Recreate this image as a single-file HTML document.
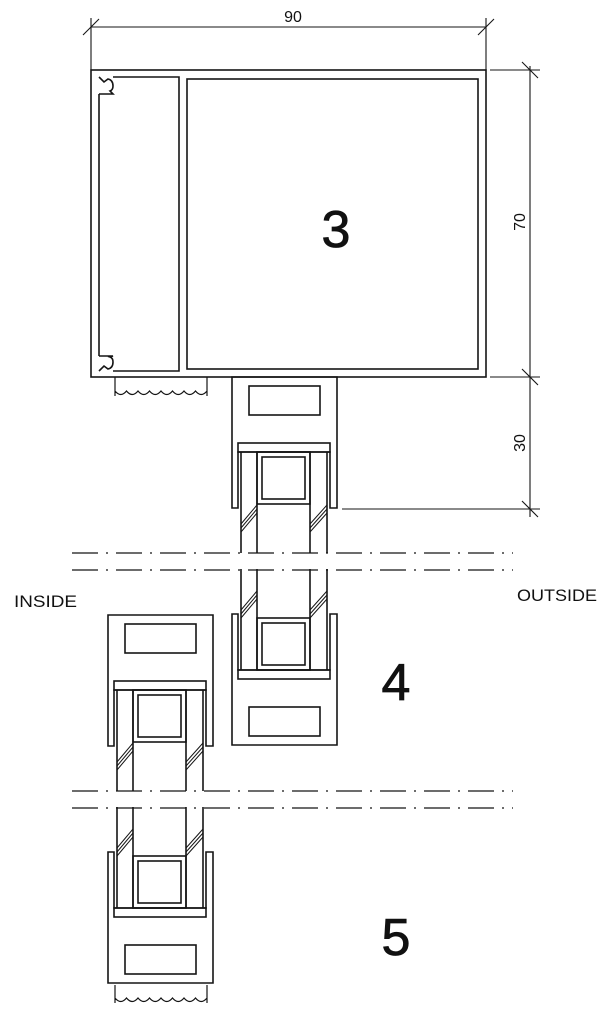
<!DOCTYPE html>
<html><head><meta charset="utf-8"><style>
html,body{margin:0;padding:0;background:#fff;}
svg{display:block;}
text{font-family:"Liberation Sans",sans-serif;fill:#111;}
</style></head><body>
<svg width="606" height="1017" viewBox="0 0 606 1017" xmlns="http://www.w3.org/2000/svg">
<defs>
<g id="half" fill="none" stroke="#151515" stroke-width="1.6">
  <path d="M232,508 V377 H337 V508 H330 V452 H238 V508 Z"/>
  <rect x="238" y="443" width="92" height="9"/>
  <rect x="249" y="386" width="71" height="29"/>
  <line x1="241" y1="452" x2="241" y2="553"/>
  <line x1="257" y1="452" x2="257" y2="553"/>
  <line x1="310" y1="452" x2="310" y2="553"/>
  <line x1="327" y1="452" x2="327" y2="553"/>
  <rect x="257" y="452" width="53" height="52"/>
  <rect x="262" y="457" width="43" height="42"/>
</g>
<g id="hatch" fill="none" stroke="#151515" stroke-width="1">
  <line x1="241" y1="0" x2="257" y2="-19"/>
  <line x1="241" y1="4" x2="257" y2="-15"/>
  <line x1="241" y1="8" x2="257" y2="-11"/>
  <line x1="310" y1="0" x2="327" y2="-19"/>
  <line x1="310" y1="4" x2="327" y2="-15"/>
  <line x1="310" y1="8" x2="327" y2="-11"/>
</g>
<g id="sash">
  <use href="#half"/>
  <use href="#half" transform="translate(0,1122) scale(1,-1)"/>
  <use href="#hatch" transform="translate(0,524)"/>
  <use href="#hatch" transform="translate(0,610)"/>
</g>
</defs>

<g fill="none" stroke="#151515" stroke-width="1.6">
  <!-- frame 3 -->
  <rect x="91" y="70" width="395" height="307"/>
  <path d="M99,94 V356"/>
  <path d="M99,77 L104,82 L108,79 Q113,80 113,86 Q113,90 110,91 L113,94 L99,94"/>
  <path d="M99,371 L104,366 L108,369 Q113,368 113,362 Q113,358 110,357 L113,356 L99,356"/>
  <path d="M113,77 H179 V371 H113"/>
  <rect x="187" y="79" width="291" height="290"/>
  <!-- wavy strips -->
  <path d="M115,377 V396 M207,377 V396 M115,391 q5.75,7 11.5,0 q5.75,7 11.5,0 q5.75,7 11.5,0 q5.75,7 11.5,0 q5.75,7 11.5,0 q5.75,7 11.5,0 q5.75,7 11.5,0 q5.75,7 11.5,0" stroke-width="1.2"/>
  <path d="M115,985 V1003 M207,985 V1003 M115,998 q5.75,7 11.5,0 q5.75,7 11.5,0 q5.75,7 11.5,0 q5.75,7 11.5,0 q5.75,7 11.5,0 q5.75,7 11.5,0 q5.75,7 11.5,0 q5.75,7 11.5,0" stroke-width="1.2"/>
  <!-- dimensions -->
  <g stroke-width="1.1">
    <line x1="91" y1="27" x2="486" y2="27"/>
    <line x1="91" y1="18" x2="91" y2="70"/>
    <line x1="486" y1="18" x2="486" y2="70"/>
    <line x1="83" y1="35" x2="99" y2="19"/>
    <line x1="478" y1="35" x2="494" y2="19"/>
    <line x1="530" y1="66" x2="530" y2="517"/>
    <line x1="490" y1="70" x2="540" y2="70"/>
    <line x1="490" y1="377" x2="540" y2="377"/>
    <line x1="342" y1="509" x2="540" y2="509"/>
    <line x1="522" y1="62" x2="538" y2="78"/>
    <line x1="522" y1="369" x2="538" y2="385"/>
    <line x1="522" y1="501" x2="538" y2="517"/>
  </g>
  <!-- centre lines -->
  <g stroke-width="1.3" stroke-dasharray="26,8,2,8">
    <line x1="72" y1="553" x2="513" y2="553"/>
    <line x1="72" y1="570" x2="513" y2="570"/>
    <line x1="72" y1="791" x2="513" y2="791"/>
    <line x1="72" y1="808" x2="513" y2="808"/>
  </g>
</g>
<use href="#sash"/>
<use href="#sash" transform="translate(-124,238)"/>

<text x="293" y="22" font-size="16" text-anchor="middle">90</text>
<text x="0" y="0" font-size="16" text-anchor="middle" transform="translate(525,222) rotate(-90)">70</text>
<text x="0" y="0" font-size="16" text-anchor="middle" transform="translate(525,443) rotate(-90)">30</text>
<text x="336" y="247" font-size="52" text-anchor="middle" stroke="#111" stroke-width="0.8">3</text>
<text x="396" y="700" font-size="52" text-anchor="middle" stroke="#111" stroke-width="0.8">4</text>
<text x="396" y="955" font-size="52" text-anchor="middle" stroke="#111" stroke-width="0.8">5</text>
<text x="14" y="607" font-size="17" textLength="63" lengthAdjust="spacingAndGlyphs">INSIDE</text>
<text x="517" y="601" font-size="17" textLength="80" lengthAdjust="spacingAndGlyphs">OUTSIDE</text>
</svg>
</body></html>
